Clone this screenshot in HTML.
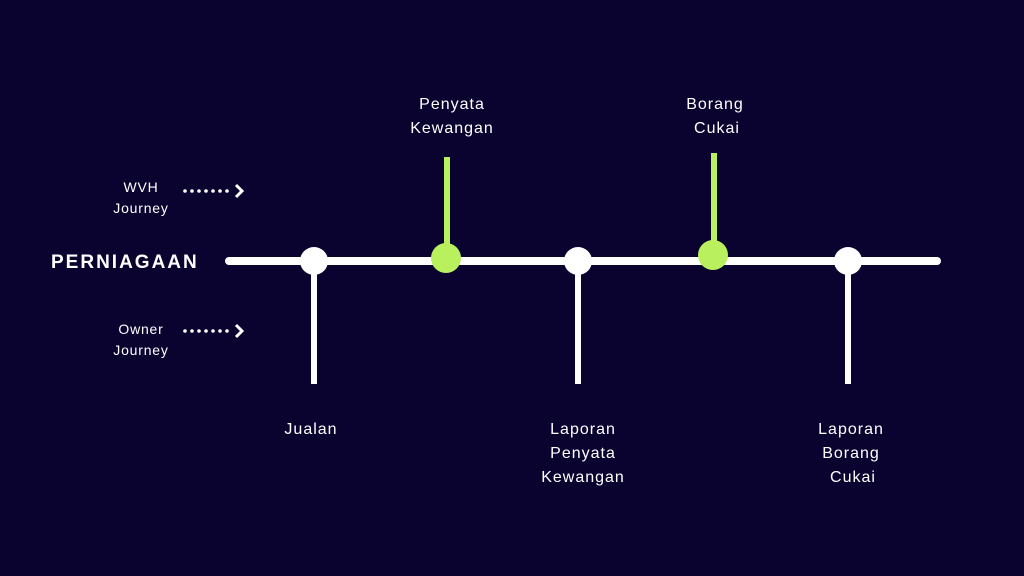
<!DOCTYPE html>
<html><head><style>
body{margin:0;width:1024px;height:576px;background:#0a0330;overflow:hidden}
svg{display:block}
text{font-family:"Liberation Sans","DejaVu Sans",sans-serif;fill:#fff}
</style></head><body>
<svg width="1024" height="576" viewBox="0 0 1024 576">
<rect width="1024" height="576" fill="#0a0330"/>
<line x1="229" y1="261" x2="937" y2="261" stroke="#fff" stroke-width="8" stroke-linecap="round"/>
<g stroke="#fff" stroke-width="6">
<line x1="314" y1="261" x2="314" y2="384"/>
<line x1="578" y1="261" x2="578" y2="384"/>
<line x1="848" y1="261" x2="848" y2="384"/>
</g>
<g stroke="#b9f15e" stroke-width="6">
<line x1="447" y1="157" x2="447" y2="258"/>
<line x1="714" y1="153" x2="714" y2="255"/>
</g>
<circle cx="314" cy="261" r="14" fill="#fff"/>
<circle cx="578" cy="261" r="14" fill="#fff"/>
<circle cx="848" cy="261" r="14" fill="#fff"/>
<circle cx="446" cy="258" r="15" fill="#b9f15e"/>
<circle cx="713" cy="255" r="15" fill="#b9f15e"/>
<text x="51" y="268" font-size="19" font-weight="bold" letter-spacing="2">PERNIAGAAN</text>
<g font-size="14" text-anchor="middle" letter-spacing="0.8" fill="#ddd">
<text x="141" y="192">WVH</text><text x="141" y="213">Journey</text>
<text x="141" y="334">Owner</text><text x="141" y="355">Journey</text>
</g>
<g fill="#fff">
<g id="d"><circle cx="185" cy="191" r="1.8"/><circle cx="192" cy="191" r="1.8"/><circle cx="199" cy="191" r="1.8"/><circle cx="206" cy="191" r="1.8"/><circle cx="213" cy="191" r="1.8"/><circle cx="220" cy="191" r="1.8"/><circle cx="227" cy="191" r="1.8"/></g>
<use href="#d" y="140"/>
</g>
<g stroke="#fff" stroke-width="3" fill="none">
<polyline points="236,185 242,191 236,197"/>
<polyline points="236,325 242,331 236,337"/>
</g>
<g font-size="16" text-anchor="middle" letter-spacing="1">
<text x="452" y="109">Penyata</text><text x="452" y="133">Kewangan</text>
<text x="715" y="109">Borang</text><text x="717" y="133">Cukai</text>
<text x="311" y="434">Jualan</text>
<text x="583" y="434">Laporan</text><text x="583" y="458">Penyata</text><text x="583" y="482">Kewangan</text>
<text x="851" y="434">Laporan</text><text x="851" y="458">Borang</text><text x="853" y="482">Cukai</text>
</g>
</svg>
</body></html>
